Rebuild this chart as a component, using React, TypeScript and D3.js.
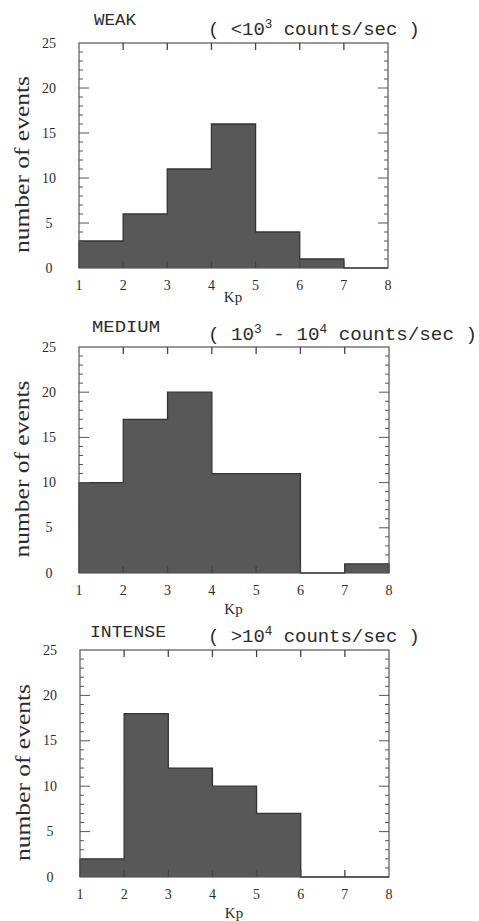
import * as d3 from 'd3';
import { useEffect, useRef } from 'react';

// Kp bins start at these values, each one unit wide
const kpBins = [1, 2, 3, 4, 5, 6, 7];
const weakCounts = [3, 6, 11, 16, 4, 1, 0];
const mediumCounts = [10, 17, 20, 11, 11, 0, 1];
const intenseCounts = [2, 18, 12, 10, 7, 0, 0];

const xTicks = [1, 2, 3, 4, 5, 6, 7, 8];
const yTicks = [0, 5, 10, 15, 20, 25];

const panelTitles = ['WEAK', 'MEDIUM', 'INTENSE'];
// subtitle pieces, alternating normal text and superscript
const panelRanges = [
  ['( <10', '3', ' counts/sec )'],
  ['( 10', '3', ' - 10', '4', ' counts/sec )'],
  ['( >10', '4', ' counts/sec )'],
];

interface Panel {
  counts: number[];
  left: number;
  right: number;
  top: number;
  bottom: number;
  titleX: number;
  titleDy: number;
  titleLen: number;
  subDy: number;
  subLen: number;
  kpDy: number;
}

const panels: Panel[] = [
  { counts: weakCounts, left: 79, right: 388, top: 43, bottom: 268, titleX: 94, titleDy: -18, titleLen: 42, subDy: -8, subLen: 212, kpDy: 34 },
  { counts: mediumCounts, left: 79, right: 389, top: 347, bottom: 573, titleX: 92, titleDy: -15, titleLen: 68, subDy: -7, subLen: 269, kpDy: 41 },
  { counts: intenseCounts, left: 80, right: 389, top: 650, bottom: 877, titleX: 90, titleDy: -13, titleLen: 76, subDy: -8, subLen: 212, kpDy: 41 },
];

const ink = '#2b2b2b';
const serif = '"Liberation Serif", "DejaVu Serif", serif';
const mono = '"Liberation Mono", "DejaVu Sans Mono", monospace';

export default function App() {
  const ref = useRef<SVGSVGElement | null>(null);

  useEffect(() => {
    if (!ref.current) return;
    const svg = d3.select(ref.current);
    svg.selectAll('*').remove();

    panels.forEach((p, i) => {
      const g = svg.append('g');
      const x = d3.scaleLinear().domain([1, 8]).range([p.left, p.right]);
      const y = d3.scaleLinear().domain([0, 25]).range([p.bottom, p.top]);

      // step histogram: one filled region, outline only on the outside
      const pts: [number, number][] = kpBins.map((k, j) => [k, p.counts[j]]);
      pts.push([8, p.counts[p.counts.length - 1]]);

      const area = d3.area<[number, number]>()
        .x((d) => x(d[0]))
        .y0(y(0))
        .y1((d) => y(d[1]))
        .curve(d3.curveStepAfter);
      g.append('path')
        .attr('d', area(pts))
        .attr('fill', '#585858');

      const outline = d3.line<[number, number]>()
        .x((d) => x(d[0]))
        .y((d) => y(d[1]))
        .curve(d3.curveStepAfter);
      const edge: [number, number][] = [[1, 0], ...pts, [8, 0]];
      g.append('path')
        .attr('d', outline(edge))
        .attr('fill', 'none')
        .attr('stroke', '#333')
        .attr('stroke-width', 1.3);

      // frame
      g.append('rect')
        .attr('x', p.left)
        .attr('y', p.top)
        .attr('width', p.right - p.left)
        .attr('height', p.bottom - p.top)
        .attr('fill', 'none')
        .attr('stroke', '#555')
        .attr('stroke-width', 1.2);

      const inner = xTicks.slice(1, -1);
      // top & bottom ticks
      g.append('g')
        .selectAll('line')
        .data(inner)
        .join('line')
        .attr('x1', (d) => x(d))
        .attr('x2', (d) => x(d))
        .attr('y1', p.top)
        .attr('y2', p.top + 7)
        .attr('stroke', '#444')
        .attr('stroke-width', 1.3);
      g.append('g')
        .selectAll('line')
        .data(inner)
        .join('line')
        .attr('x1', (d) => x(d))
        .attr('x2', (d) => x(d))
        .attr('y1', p.bottom)
        .attr('y2', p.bottom - 7)
        .attr('stroke', '#444')
        .attr('stroke-width', 1.3);

      // left & right ticks, minor every 1, major every 5
      const yt = d3.range(1, 25);
      const len = (d: number) => (d % 5 === 0 ? 10 : 4);
      g.append('g')
        .selectAll('line')
        .data(yt)
        .join('line')
        .attr('x1', p.left)
        .attr('x2', (d) => p.left + len(d))
        .attr('y1', (d) => y(d))
        .attr('y2', (d) => y(d))
        .attr('stroke', '#555')
        .attr('stroke-width', 1);
      g.append('g')
        .selectAll('line')
        .data(yt)
        .join('line')
        .attr('x1', p.right)
        .attr('x2', (d) => p.right - len(d))
        .attr('y1', (d) => y(d))
        .attr('y2', (d) => y(d))
        .attr('stroke', '#555')
        .attr('stroke-width', 1);

      // tick labels
      g.append('g')
        .selectAll('text')
        .data(yTicks)
        .join('text')
        .attr('x', p.left - 30)
        .attr('y', (d) => y(d) + 4.5)
        .attr('text-anchor', 'middle')
        .attr('font-family', serif)
        .attr('font-size', 14)
        .attr('fill', ink)
        .text((d) => d);
      g.append('g')
        .selectAll('text')
        .data(xTicks)
        .join('text')
        .attr('x', (d) => x(d))
        .attr('y', p.bottom + 22)
        .attr('text-anchor', 'middle')
        .attr('font-family', serif)
        .attr('font-size', 14)
        .attr('fill', ink)
        .text((d) => d);

      // axis labels
      g.append('text')
        .attr('x', (p.left + p.right) / 2 - 0.5)
        .attr('y', p.bottom + p.kpDy)
        .attr('text-anchor', 'middle')
        .attr('font-family', serif)
        .attr('font-size', 15)
        .attr('fill', ink)
        .text('Kp');
      const cy = (p.top + p.bottom) / 2 + 9;
      g.append('text')
        .attr('transform', `translate(${p.left - 57},${cy}) rotate(-90)`)
        .attr('text-anchor', 'middle')
        .attr('dominant-baseline', 'central')
        .attr('font-family', serif)
        .attr('font-size', 20)
        .attr('textLength', 177)
        .attr('lengthAdjust', 'spacingAndGlyphs')
        .attr('fill', ink)
        .text('number of events');

      // titles
      g.append('text')
        .attr('x', p.titleX)
        .attr('y', p.top + p.titleDy)
        .attr('font-family', mono)
        .attr('font-size', 17)
        .attr('textLength', p.titleLen)
        .attr('lengthAdjust', 'spacingAndGlyphs')
        .attr('fill', ink)
        .text(panelTitles[i]);

      const sub = g.append('text')
        .attr('x', 208)
        .attr('y', p.top + p.subDy)
        .attr('font-family', mono)
        .attr('font-size', 18)
        .attr('textLength', p.subLen)
        .attr('lengthAdjust', 'spacingAndGlyphs')
        .attr('fill', ink);
      panelRanges[i].forEach((piece, k) => {
        const t = sub.append('tspan').text(piece);
        if (k % 2 === 1) t.attr('dy', -7).attr('font-size', 12);
        else if (k > 0) t.attr('dy', 7);
      });
    });
  }, []);

  return (
    <svg
      ref={ref}
      width={479}
      height={921}
      style={{ position: 'absolute', left: 0, top: 0, background: '#fff' }}
    />
  );
}
